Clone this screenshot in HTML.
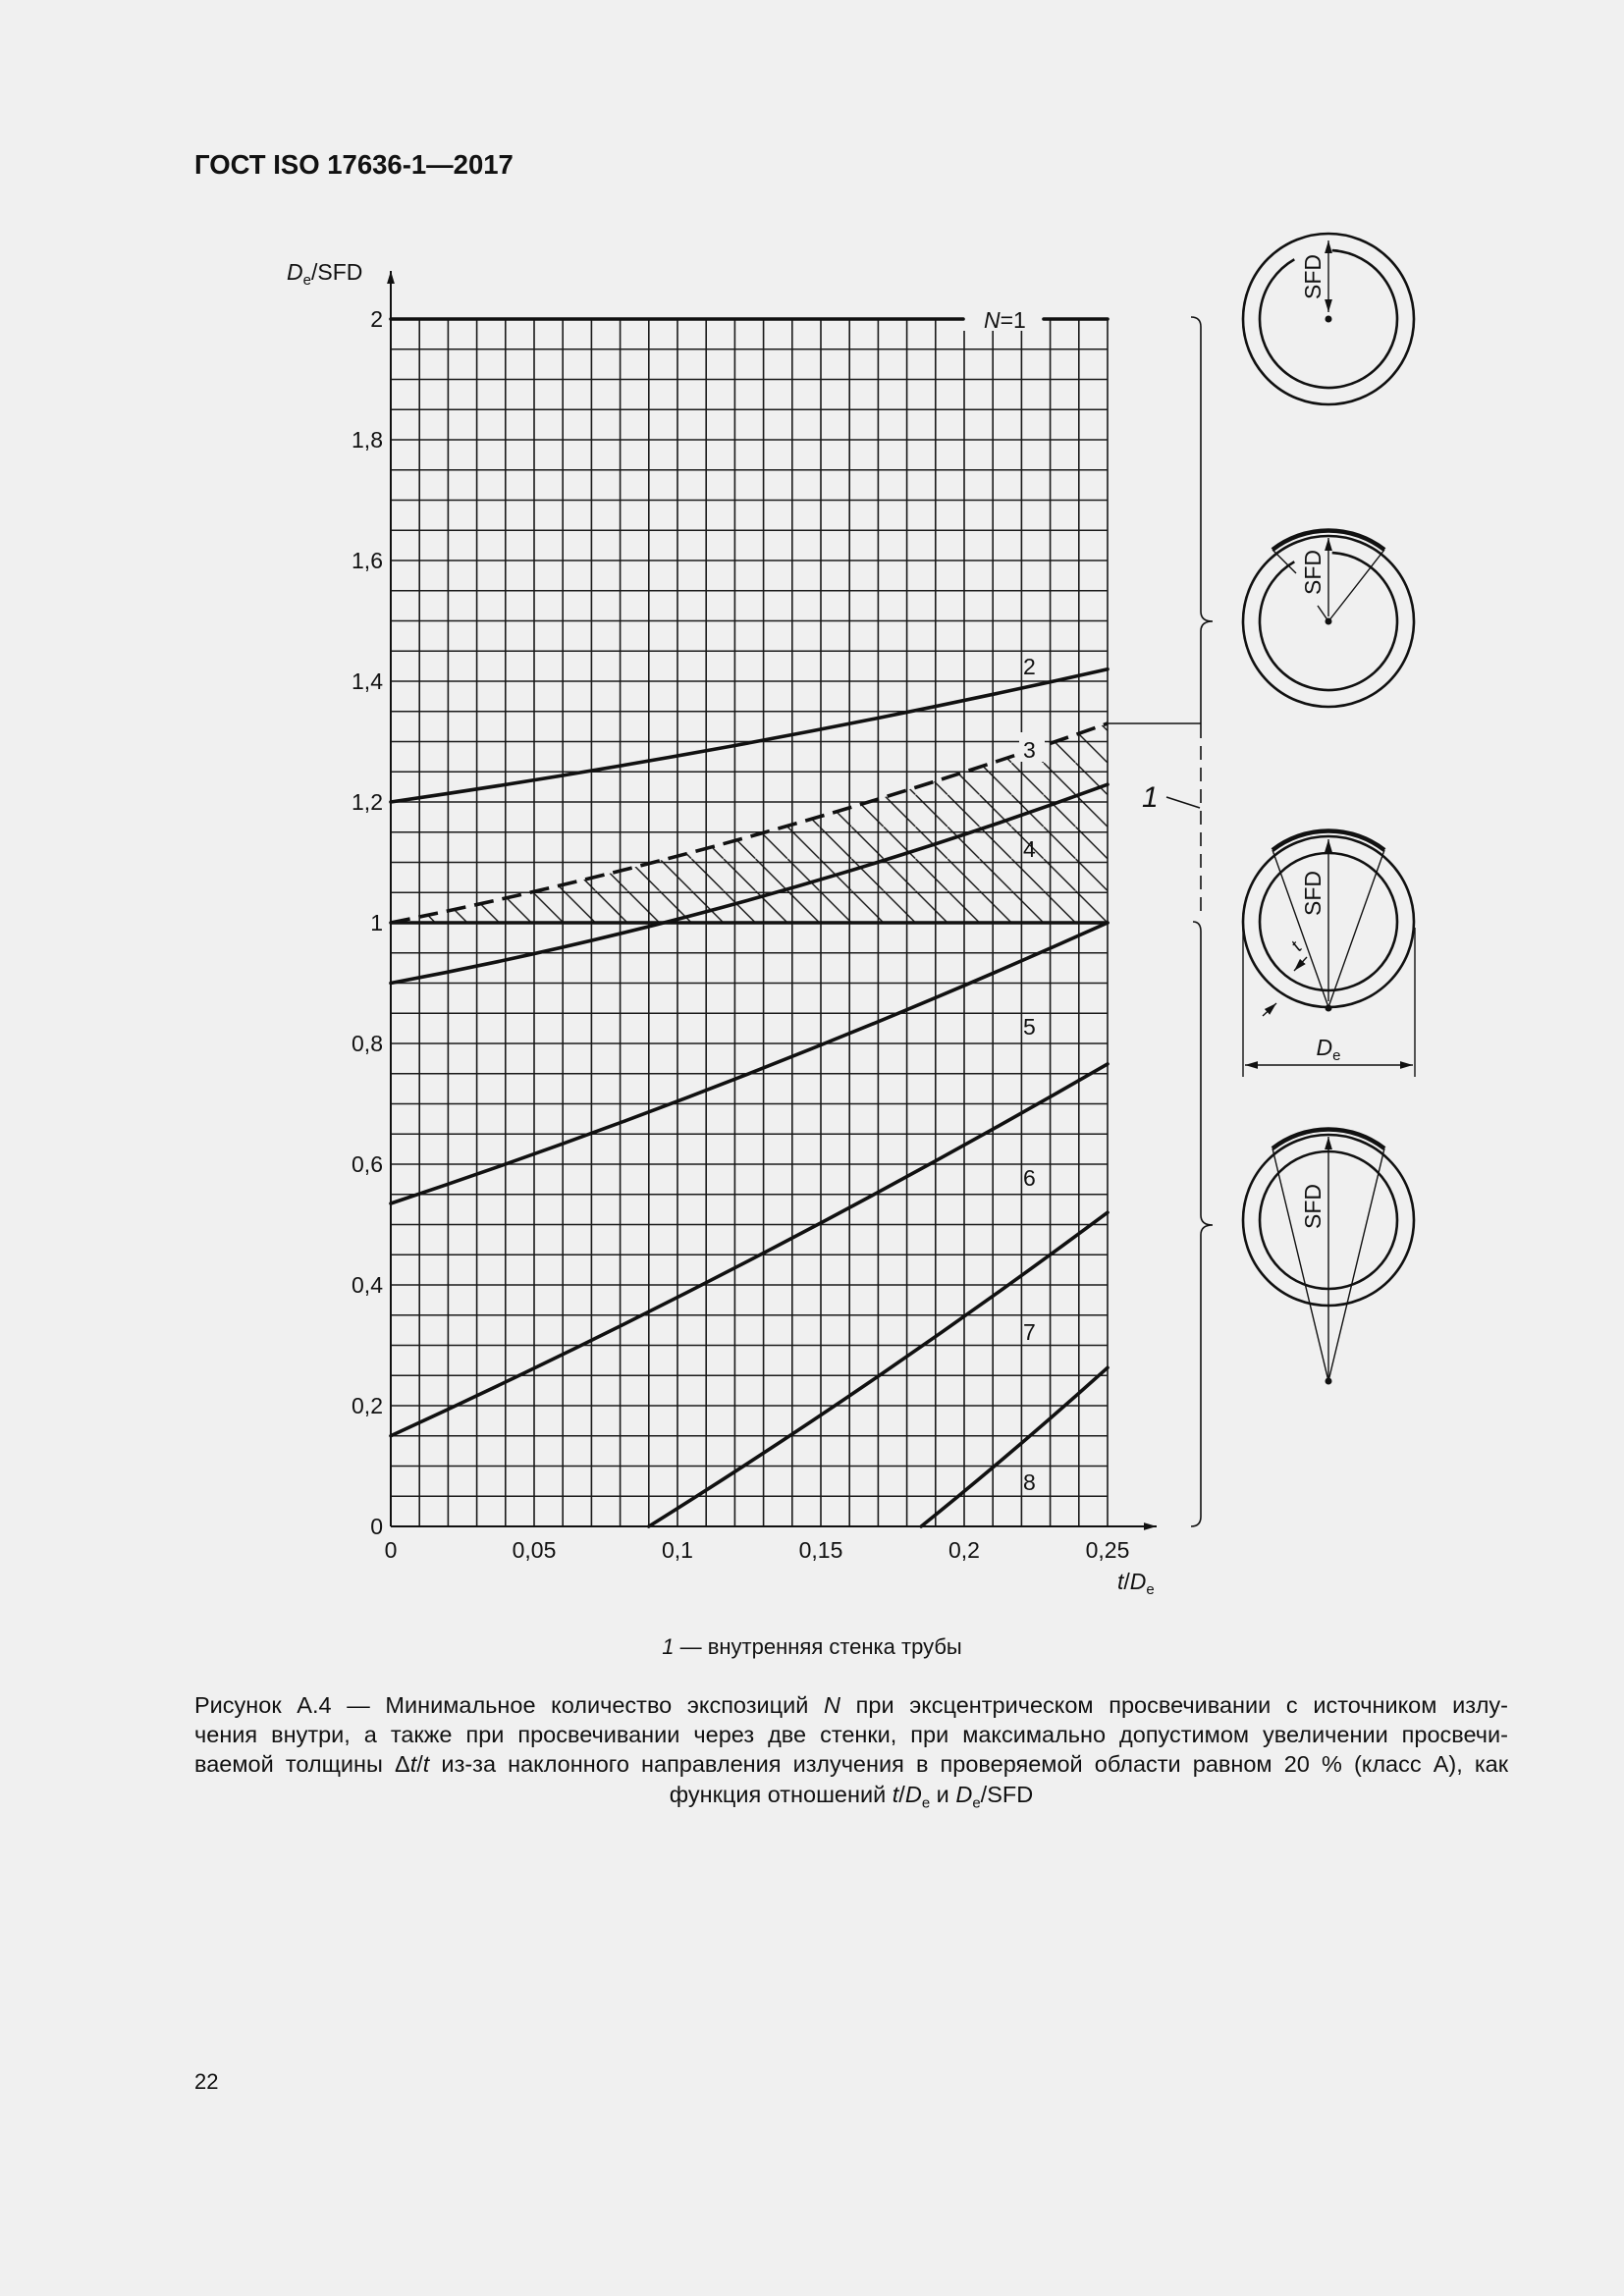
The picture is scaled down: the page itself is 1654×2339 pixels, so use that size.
<!DOCTYPE html>
<html><head><meta charset="utf-8"><style>
html,body{margin:0;padding:0;background:#f0f0f0;}
body{width:1654px;height:2339px;position:relative;font-family:"Liberation Sans",sans-serif;color:#111;}
svg{position:absolute;left:0;top:0;}
.cap{position:absolute;left:198px;width:1338px;font-size:23.5px;line-height:30px;text-align:justify;text-align-last:justify;white-space:nowrap;}
</style></head><body>
<svg width="1654" height="2339" viewBox="0 0 1654 2339" xmlns="http://www.w3.org/2000/svg" font-family="Liberation Sans, sans-serif" fill="none">
<defs>
<pattern id="h" patternUnits="userSpaceOnUse" x="1128" y="940" width="32.6" height="32.6">
<line x1="-1" y1="-1" x2="33.6" y2="33.6" stroke="#111" stroke-width="1.4"/>
</pattern>
<clipPath id="cl"><path d="M398,940 Q763,866.3 1128,737 L1128,940 Z"/></clipPath>
<marker id="ar" viewBox="0 0 10 10" refX="10" refY="5" markerWidth="13" markerHeight="13" orient="auto-start-reverse" markerUnits="userSpaceOnUse"><path d="M0,2 L10,5 L0,8 Z" fill="#111"/></marker>
</defs>
<text x="198" y="177" font-size="27.5" font-weight="bold" fill="#111">ГОСТ ISO 17636-1—2017</text>
<g stroke="#1a1a1a" stroke-width="1.6">
<path d="M427.2,325V1555M456.4,325V1555M485.6,325V1555M514.8,325V1555M544,325V1555M573.2,325V1555M602.4,325V1555M631.6,325V1555M660.8,325V1555M690,325V1555M719.2,325V1555M748.4,325V1555M777.6,325V1555M806.8,325V1555M836,325V1555M865.2,325V1555M894.4,325V1555M923.6,325V1555M952.8,325V1555M982,337V1555M1011.2,337V1555M1040.4,337V1555M1069.6,325V1555M1098.8,325V1555M1128,325V1555"/>
<path d="M398,355.75H1128M398,386.5H1128M398,417.25H1128M398,448H1128M398,478.75H1128M398,509.5H1128M398,540.25H1128M398,571H1128M398,601.75H1128M398,632.5H1128M398,663.25H1128M398,694H1128M398,724.75H1128M398,755.5H1128M398,786.25H1128M398,817H1128M398,847.75H1128M398,878.5H1128M398,909.25H1128M398,970.75H1128M398,1001.5H1128M398,1032.25H1128M398,1063H1128M398,1093.75H1128M398,1124.5H1128M398,1155.25H1128M398,1186H1128M398,1216.75H1128M398,1247.5H1128M398,1278.25H1128M398,1309H1128M398,1339.75H1128M398,1370.5H1128M398,1401.25H1128M398,1432H1128M398,1462.75H1128M398,1493.5H1128M398,1524.25H1128"/>
</g>
<g stroke="#111" stroke-width="2">
<line x1="398" y1="1555" x2="398" y2="276" marker-end="url(#ar)"/>
<line x1="398" y1="1555" x2="1178" y2="1555" marker-end="url(#ar)"/>
</g>
<rect x="398" y="700" width="730" height="240" fill="url(#h)" clip-path="url(#cl)"/>
<g stroke="#111" stroke-width="3.6" stroke-linecap="round">
<path d="M398,325H981M1063,325H1128"/>
<path d="M398,940H1128"/>
<path d="M398,817 Q763,764.2 1128,681.7"/>
<path d="M398,1001.5 Q763,933.3 1128,799.2"/>
<path d="M398,1226 Q763,1104.3 1128,940"/>
<path d="M398,1462.75 Q763,1294.9 1128,1083.9"/>
<path d="M660.8,1555 Q894.4,1409 1128,1235.2"/>
<path d="M938.2,1555 Q1033.1,1478.6 1128,1393.3"/>
<path d="M398,940 Q763,866.3 1128,737" stroke-dasharray="20 9" stroke-linecap="butt"/>
</g>
<rect x="1038" y="746" width="26" height="30" fill="#f0f0f0"/>
<g font-size="23" fill="#111">
<text x="1002" y="334"><tspan font-style="italic">N</tspan>=1</text>
<text x="1042" y="687">2</text>
<text x="1042" y="772">3</text>
<text x="1042" y="873">4</text>
<text x="1042" y="1054">5</text>
<text x="1042" y="1208">6</text>
<text x="1042" y="1365">7</text>
<text x="1042" y="1518">8</text>
</g>
<g font-size="23" fill="#111" text-anchor="end">
<text x="390" y="333">2</text>
<text x="390" y="456">1,8</text>
<text x="390" y="579">1,6</text>
<text x="390" y="702">1,4</text>
<text x="390" y="825">1,2</text>
<text x="390" y="948">1</text>
<text x="390" y="1071">0,8</text>
<text x="390" y="1194">0,6</text>
<text x="390" y="1317">0,4</text>
<text x="390" y="1440">0,2</text>
<text x="390" y="1563">0</text>
</g>
<g font-size="23" fill="#111" text-anchor="middle">
<text x="398" y="1587">0</text>
<text x="544" y="1587">0,05</text>
<text x="690" y="1587">0,1</text>
<text x="836" y="1587">0,15</text>
<text x="982" y="1587">0,2</text>
<text x="1128" y="1587">0,25</text>
</g>
<text x="1138" y="1619" font-size="23" fill="#111"><tspan font-style="italic">t</tspan>/<tspan font-style="italic">D</tspan><tspan font-size="15" dy="5">e</tspan></text>
<text x="292" y="285" font-size="23" fill="#111"><tspan font-style="italic">D</tspan><tspan font-size="15" dy="5">e</tspan><tspan dy="-5">/SFD</tspan></text>
<g stroke="#111" stroke-width="1.6">
<path d="M1213,323 Q1223,323 1223,333 L1223,623 Q1223,633 1235,633 Q1223,633 1223,643 L1223,738"/>
<path d="M1223,738 L1223,930" stroke-dasharray="14 8"/>
<path d="M1215,939 Q1223,939 1223,949 L1223,1238 Q1223,1248 1235,1248 Q1223,1248 1223,1258 L1223,1545 Q1223,1555 1213,1555"/>
<path d="M1128,737 H1223"/>
<path d="M1188,812 L1222,823"/>
</g>
<text x="1163" y="822" font-size="30" font-style="italic" fill="#111">1</text>
<g stroke="#111" stroke-width="2.6">
<circle cx="1353" cy="325" r="87"/>
<path d="M1356.7,255.1 A70,70 0 1,1 1318.3,264.2"/>
<circle cx="1353" cy="633" r="87"/>
<path d="M1356.7,563.1 A70,70 0 1,1 1318.3,572.2"/>
<circle cx="1353" cy="939" r="87"/>
<circle cx="1353" cy="939" r="70"/>
<circle cx="1353" cy="1243" r="87"/>
<circle cx="1353" cy="1243" r="70"/>
</g>
<g stroke="#111" stroke-width="4.5">
<path d="M1296,560 A93,93 0 0,1 1410,560"/>
<path d="M1296,866 A93,93 0 0,1 1410,866"/>
<path d="M1296,1170 A93,93 0 0,1 1410,1170"/>
</g>
<g stroke="#111" stroke-width="1.4">
<line x1="1353" y1="245" x2="1353" y2="318" marker-start="url(#ar)" marker-end="url(#ar)"/>
<line x1="1353" y1="548" x2="1353" y2="628" marker-start="url(#ar)"/>
<line x1="1353" y1="633" x2="1410" y2="560"/>
<line x1="1296" y1="560" x2="1320" y2="584"/>
<line x1="1342" y1="617" x2="1353" y2="633"/>
<line x1="1353" y1="855" x2="1353" y2="1020" marker-start="url(#ar)"/>
<line x1="1353" y1="1026" x2="1296" y2="866"/>
<line x1="1353" y1="1026" x2="1410" y2="866"/>
<line x1="1266" y1="945" x2="1266" y2="1097"/>
<line x1="1441" y1="945" x2="1441" y2="1097"/>
<line x1="1268" y1="1085" x2="1439" y2="1085" marker-start="url(#ar)" marker-end="url(#ar)"/>
<line x1="1286" y1="1035" x2="1300" y2="1022" marker-end="url(#ar)"/>
<line x1="1331" y1="975" x2="1318" y2="989" marker-end="url(#ar)"/>
<line x1="1353" y1="1158" x2="1353" y2="1405" marker-start="url(#ar)"/>
<line x1="1353" y1="1407" x2="1296" y2="1170"/>
<line x1="1353" y1="1407" x2="1410" y2="1170"/>
</g>
<g fill="#111">
<circle cx="1353" cy="325" r="3.5"/>
<circle cx="1353" cy="633" r="3.5"/>
<circle cx="1353" cy="1027" r="3.5"/>
<circle cx="1353" cy="1407" r="3.5"/>
</g>
<g font-size="23" fill="#111" text-anchor="middle">
<text transform="translate(1345,282) rotate(-90)">SFD</text>
<text transform="translate(1345,583) rotate(-90)">SFD</text>
<text transform="translate(1345,910) rotate(-90)">SFD</text>
<text transform="translate(1345,1229) rotate(-90)">SFD</text>
<text x="1353" y="1075"><tspan font-style="italic">D</tspan><tspan font-size="15" dy="5">e</tspan></text>
<text transform="translate(1325,968) rotate(-50)" font-style="italic" font-size="19">t</text>
</g>
</svg>
<div style="position:absolute;left:0;width:1654px;top:1665px;text-align:center;font-size:22px;"><i>1</i> — внутренняя стенка трубы</div>
<div class="cap" style="top:1722px;">Рисунок А.4 — Минимальное количество экспозиций <i>N</i> при эксцентрическом просвечивании с источником излу-</div>
<div class="cap" style="top:1752px;">чения внутри, а также при просвечивании через две стенки, при максимально допустимом увеличении просвечи-</div>
<div class="cap" style="top:1782px;">ваемой толщины Δ<i>t</i>/<i>t</i> из-за наклонного направления излучения в проверяемой области равном 20 % (класс А), как</div>
<div class="cap" style="top:1813px;text-align:center;text-align-last:center;">функция отношений <i>t</i>/<i>D</i><sub style="font-size:15px">e</sub> и <i>D</i><sub style="font-size:15px">e</sub>/SFD</div>
<div style="position:absolute;left:198px;top:2108px;font-size:22px;">22</div>
</body></html>
